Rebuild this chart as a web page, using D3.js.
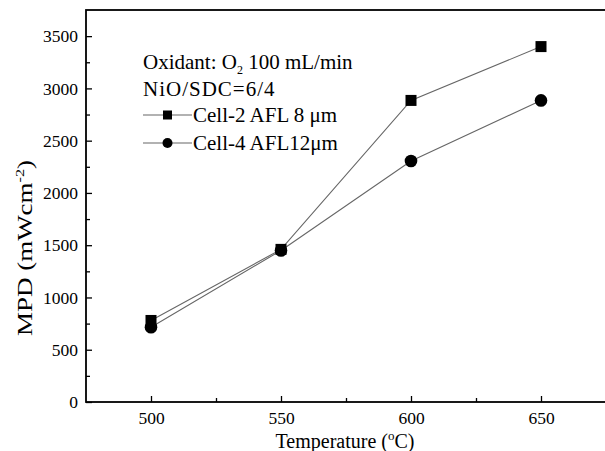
<!DOCTYPE html>
<html>
<head>
<meta charset="utf-8">
<script src="https://cdn.jsdelivr.net/npm/d3@7"></script>
<style>
  body { margin: 0; background: #fff; }
  svg { font-family: "Liberation Serif", "DejaVu Serif", serif; }
</style>
</head>
<body>
<div id="chart"></div>
<script>
const temps = [500, 550, 600, 650];
const cell2 = [780, 1460, 2885, 3400];
const cell4 = [715, 1450, 2305, 2885];
const xTicks = [500, 550, 600, 650];
const xMinor = [525, 575, 625];
const yTicks = [0, 500, 1000, 1500, 2000, 2500, 3000, 3500];
const yMinor = [250, 750, 1250, 1750, 2250, 2750, 3250];

const width = 605;
const height = 451;
const margin = { left: 86, top: 10, right: -1, bottom: 49 };

const svg = d3
  .select("#chart")
  .append("svg")
  .attr("width", width)
  .attr("height", height);

const x = d3
  .scaleLinear()
  .domain([475, 675])
  .range([margin.left, width - margin.right]);

const y = d3
  .scaleLinear()
  .domain([0, 3750])
  .range([height - margin.bottom, margin.top]);

// frame
svg
  .append("rect")
  .attr("x", x(475))
  .attr("y", y(3750))
  .attr("width", x(675) - x(475))
  .attr("height", y(0) - y(3750))
  .attr("fill", "none")
  .attr("stroke", "#000")
  .attr("stroke-width", 1.8);

// x axis
svg
  .append("g")
  .attr("transform", `translate(0,${y(0)})`)
  .call(d3.axisBottom(x).tickValues(xTicks).tickSize(-6).tickPadding(10).tickFormat(d3.format("d")));
svg
  .append("g")
  .attr("transform", `translate(0,${y(0)})`)
  .call(d3.axisBottom(x).tickValues(xMinor).tickSize(-4).tickFormat(""));

// y axis
svg
  .append("g")
  .attr("transform", `translate(${x(475)},0)`)
  .call(d3.axisLeft(y).tickValues(yTicks).tickSize(-6).tickPadding(8).tickFormat(d3.format("d")));
svg
  .append("g")
  .attr("transform", `translate(${x(475)},0)`)
  .call(d3.axisLeft(y).tickValues(yMinor).tickSize(-4).tickFormat(""));

svg.selectAll(".domain").remove();
svg.selectAll(".tick line").attr("stroke", "#000").attr("stroke-width", 1.3);
svg
  .selectAll(".tick text")
  .attr("fill", "#000")
  .style("font-family", "Liberation Serif")
  .style("font-size", "17.5px");

// axis titles
const xt = svg
  .append("text")
  .attr("x", 345)
  .attr("y", 448)
  .attr("text-anchor", "middle")
  .style("font-size", "20px");
xt.append("tspan").text("Temperature (");
xt.append("tspan").attr("dy", -8).style("font-size", "13px").text("o");
xt.append("tspan").attr("dy", 8).text("C)");

// the y title runs longer in the original, so stretch it a little
const yt = svg
  .append("text")
  .attr("transform", "translate(32,248) rotate(-90) scale(1.35,1)")
  .attr("text-anchor", "middle")
  .style("font-size", "20px");
yt.append("tspan").text("MPD (mWcm");
yt.append("tspan").attr("dy", -8).style("font-size", "12px").text("-2");
yt.append("tspan").attr("dy", 8).text(")");

// lines
const line = d3
  .line()
  .x((d, i) => x(temps[i]))
  .y((d) => y(d));

[cell2, cell4].forEach((s) => {
  svg
    .append("path")
    .datum(s)
    .attr("d", line)
    .attr("fill", "none")
    .attr("stroke", "#666")
    .attr("stroke-width", 1.1);
});

// markers
svg
  .selectAll(".sq")
  .data(cell2)
  .enter()
  .append("rect")
  .attr("x", (d, i) => x(temps[i]) - 5.5)
  .attr("y", (d) => y(d) - 5.5)
  .attr("width", 11)
  .attr("height", 11)
  .attr("fill", "#000");

svg
  .selectAll(".ci")
  .data(cell4)
  .enter()
  .append("circle")
  .attr("cx", (d, i) => x(temps[i]))
  .attr("cy", (d) => y(d))
  .attr("r", 6.3)
  .attr("fill", "#000");

// legend
const lg = svg.append("g").style("font-size", "21px");
const t1 = lg.append("text").attr("x", 143).attr("y", 69);
t1.append("tspan").text("Oxidant:  O");
t1.append("tspan").attr("dy", 5).style("font-size", "12px").text("2");
t1.append("tspan").attr("dy", -5).text(" 100 mL/min");
lg.append("text").attr("x", 143).attr("y", 96).style("letter-spacing", "1px").text("NiO/SDC=6/4");

const items = [
  { label: "Cell-2 AFL 8 \u03bcm", shape: "square", y: 115 },
  { label: "Cell-4 AFL12\u03bcm", shape: "circle", y: 143 }
];
items.forEach((it) => {
  lg.append("line")
    .attr("x1", 143).attr("x2", 192)
    .attr("y1", it.y).attr("y2", it.y)
    .attr("stroke", "#666").attr("stroke-width", 1.1);
  if (it.shape === "square") {
    lg.append("rect").attr("x", 163).attr("y", it.y - 4.5).attr("width", 9).attr("height", 9).attr("fill", "#000");
  } else {
    lg.append("circle").attr("cx", 167.5).attr("cy", it.y).attr("r", 5).attr("fill", "#000");
  }
  lg.append("text").attr("x", 193).attr("y", it.y + 7).text(it.label);
});
</script>
</body>
</html>
